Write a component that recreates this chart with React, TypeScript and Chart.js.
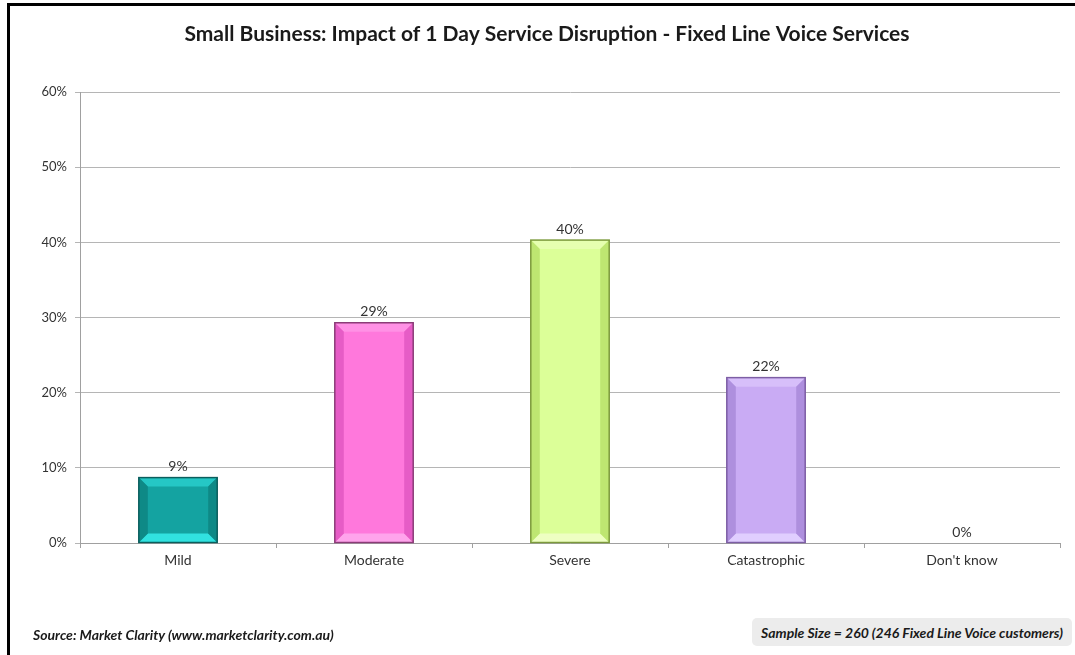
import React, { useEffect, useRef } from "react";
import { Chart, registerables } from "chart.js";

Chart.register(...registerables);

const categories = ["Mild", "Moderate", "Severe", "Catastrophic", "Don't know"];
const values = [8.7, 29.3, 40.3, 22.0, 0];
const valueLabels = ["9%", "29%", "40%", "22%", "0%"];
const yTicks = [0, 10, 20, 30, 40, 50, 60];
const barColors = ["#14a3a1", "#ff78dc", "#dcff98", "#c9abf4", "#cccccc"];
const barBorders = ["#0b5e5d", "#8b3c78", "#7c9a3c", "#7d5ea5", "#999999"];
const bevelLight = ["#33e6e4", "#ffa6ec", "#eeffc4", "#e2d0ff", "#dddddd"];
const bevelDark = ["#0d8280", "#e055c0", "#b7e068", "#a788d8", "#aaaaaa"];

const titleText = "Small Business: Impact of 1 Day Service Disruption - Fixed Line Voice Services";
const sourceText = "Source: Market Clarity (www.marketclarity.com.au)";
const sampleText = "Sample Size = 260 (246 Fixed Line Voice customers)";

const bevelPlugin = {
  id: "bevel",
  afterDatasetsDraw(chart: any) {
    const ctx = chart.ctx;
    const meta = chart.getDatasetMeta(0);
    meta.data.forEach((bar: any, i: number) => {
      const { x, y, base, width } = bar.getProps(["x", "y", "base", "width"], true);
      const h = base - y;
      if (h < 2) return;
      const l = x - width / 2;
      const r = x + width / 2;
      const t = y;
      const b = base;
      const d = Math.min(9, h / 3);
      ctx.save();
      ctx.fillStyle = bevelLight[i];
      ctx.globalAlpha = 0.55;
      ctx.beginPath();
      ctx.moveTo(l, t); ctx.lineTo(r, t); ctx.lineTo(r - d, t + d); ctx.lineTo(l + d, t + d); ctx.closePath();
      ctx.fill();
      ctx.globalAlpha = 0.95;
      ctx.beginPath();
      ctx.moveTo(l, b); ctx.lineTo(r, b); ctx.lineTo(r - d, b - d); ctx.lineTo(l + d, b - d); ctx.closePath();
      ctx.fill();
      ctx.fillStyle = bevelDark[i];
      ctx.globalAlpha = 0.8;
      ctx.beginPath();
      ctx.moveTo(l, t); ctx.lineTo(l + d, t + d); ctx.lineTo(l + d, b - d); ctx.lineTo(l, b); ctx.closePath();
      ctx.fill();
      ctx.beginPath();
      ctx.moveTo(r, t); ctx.lineTo(r - d, t + d); ctx.lineTo(r - d, b - d); ctx.lineTo(r, b); ctx.closePath();
      ctx.fill();
      ctx.globalAlpha = 1;
      ctx.strokeStyle = barBorders[i];
      ctx.lineWidth = 1.5;
      ctx.strokeRect(l, t, width, h);
      ctx.restore();
    });
  },
};

const labelPlugin = {
  id: "valueLabels",
  afterDatasetsDraw(chart: any) {
    const ctx = chart.ctx;
    const meta = chart.getDatasetMeta(0);
    ctx.save();
    ctx.font = "14px Lato";
    ctx.fillStyle = "#333333";
    ctx.textAlign = "center";
    ctx.textBaseline = "bottom";
    meta.data.forEach((bar: any, i: number) => {
      ctx.fillText(valueLabels[i], bar.x, bar.y - 4);
    });
    ctx.restore();
  },
};

const titlePlugin = {
  id: "customTitle",
  afterDraw(chart: any) {
    const ctx = chart.ctx;
    ctx.save();
    ctx.font = "bold 21px Lato";
    ctx.fillStyle = "#1a1a1a";
    ctx.textAlign = "center";
    ctx.textBaseline = "middle";
    ctx.fillText(titleText, 547, 34);
    ctx.restore();
  },
};

export default function App() {
  const canvasRef = useRef<HTMLCanvasElement | null>(null);

  useEffect(() => {
    if (!canvasRef.current) return;
    const chart = new Chart(canvasRef.current, {
      type: "bar",
      data: {
        labels: categories,
        datasets: [
          {
            data: values,
            backgroundColor: barColors,
            borderWidth: 0,
            barPercentage: 0.8,
            categoryPercentage: 0.5,
          },
        ],
      },
      plugins: [bevelPlugin, labelPlugin, titlePlugin],
      options: {
        responsive: false,
        animation: false,
        layout: { padding: { left: 8, right: 15, top: 92, bottom: 82 } },
        plugins: { legend: { display: false }, tooltip: { enabled: false }, title: { display: false } },
        scales: {
          x: {
            offset: true,
            grid: { offset: true, drawOnChartArea: false, drawTicks: true, tickLength: 5, color: "#a0a0a0" },
            border: { color: "#a0a0a0", width: 1 },
            ticks: { color: "#333333", font: { family: "Lato", size: 14 }, padding: 4 },
            afterFit: (s: any) => { s.height = 30; },
          },
          y: {
            min: 0,
            max: 60,
            afterBuildTicks: (s: any) => { s.ticks = yTicks.map((v) => ({ value: v })); },
            grid: { color: "#b5b5b5", drawTicks: true, tickLength: 5 },
            border: { color: "#a0a0a0", width: 1 },
            ticks: {
              color: "#333333",
              font: { family: "Lato", size: 13 },
              padding: 8,
              callback: (v: any) => v + "%",
            },
            afterFit: (s: any) => { s.width = 72; },
          },
        },
      },
    });
    return () => chart.destroy();
  }, []);

  return (
    <div style={{ position: "absolute", left: 0, top: 0, width: 1075, height: 655, background: "#fff", overflow: "hidden" }}>
      <div style={{ position: "absolute", left: 7, top: 3, width: 1100, height: 700, borderLeft: "3px solid #000", borderTop: "3px solid #000" }} />
      <canvas ref={canvasRef} width={1075} height={655} style={{ position: "absolute", left: 0, top: 0 }} />
      <div style={{ position: "absolute", left: 33, top: 626, fontFamily: "Lato", fontStyle: "italic", fontWeight: "bold", fontSize: 14, color: "#1a1a1a", lineHeight: "18px" }}>
        {sourceText}
      </div>
      <div style={{ position: "absolute", left: 752, top: 618, width: 320, height: 28, background: "#ececec", borderRadius: 5, fontFamily: "Lato", fontStyle: "italic", fontWeight: "bold", fontSize: 14, color: "#1a1a1a", display: "flex", alignItems: "center", justifyContent: "center" }}>
        {sampleText}
      </div>
    </div>
  );
}
